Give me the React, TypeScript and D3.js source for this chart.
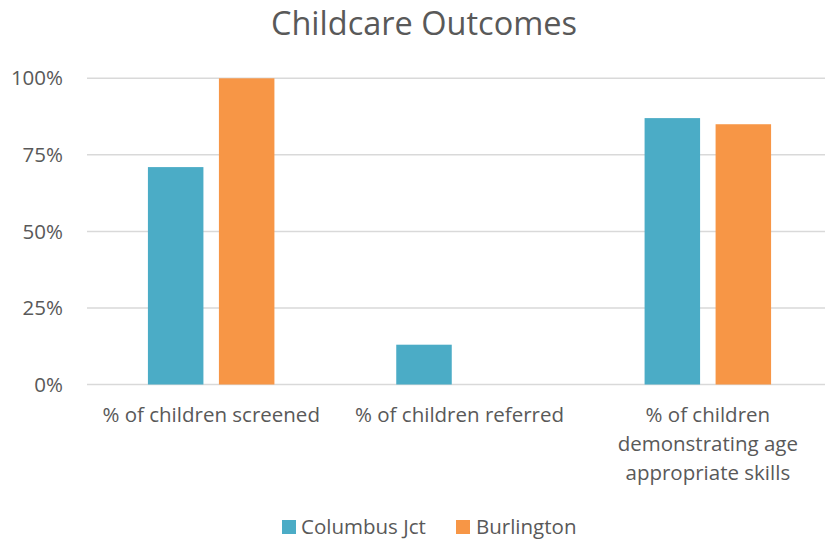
import React from "react";
import * as d3 from "d3";

const categories: string[][] = [
  ["% of children screened"],
  ["% of children referred"],
  ["% of children", "demonstrating age", "appropriate skills"],
];
const seriesNames = ["Columbus Jct", "Burlington"];
const columbusJct = [71, 13, 87];
const burlington = [100, 0, 85];
const yTicks = [0, 25, 50, 75, 100];

const W = 825;
const H = 540;
const colors = ["#4BACC6", "#F79646"];
const FONT = "'Open Sans', sans-serif";
const TEXT = "#595959";

export default function App() {
  const left = 87;
  const right = 832;
  const top = 78.3;
  const bottom = 384.5;
  const series = [columbusJct, burlington];

  const x = d3
    .scaleBand<number>()
    .domain(categories.map((_, i) => i))
    .range([left, right])
    .paddingInner(0)
    .paddingOuter(0);
  const groupW = 126.5;
  const x1 = d3
    .scaleBand<number>()
    .domain([0, 1])
    .range([0, groupW])
    .paddingInner(15.5 / 71);
  const y = d3.scaleLinear().domain([0, 100]).range([bottom, top]);

  return (
    <svg
      width={W}
      height={H}
      style={{ position: "absolute", left: 0, top: 0, background: "#fff" }}
      fontFamily={FONT}
    >
      <rect x={0} y={0} width={W} height={H} fill="#fff" />
      <text x={424} y={35} textAnchor="middle" fontSize={32.5} fill={TEXT}>
        Childcare Outcomes
      </text>
      {yTicks.map((t) => (
        <g key={t}>
          <line x1={left} x2={W} y1={y(t)} y2={y(t)} stroke="#D9D9D9" strokeWidth={1.5} />
          <text x={63} y={y(t)} dy="0.35em" textAnchor="end" fontSize={20.5} fill={TEXT}>
            {t}%
          </text>
        </g>
      ))}
      {categories.map((_, ci) => {
        const gx = x(ci)! + x.bandwidth() / 2 - groupW / 2;
        return series.map((s, si) => (
          <rect
            key={`${ci}-${si}`}
            x={gx + x1(si)!}
            y={y(s[ci])}
            width={x1.bandwidth()}
            height={bottom - y(s[ci])}
            fill={colors[si]}
          />
        ));
      })}
      {categories.map((lines, ci) => (
        <text
          key={ci}
          x={x(ci)! + x.bandwidth() / 2}
          y={422}
          textAnchor="middle"
          fontSize={20.5}
          fill={TEXT}
        >
          {lines.map((l, li) => (
            <tspan key={li} x={x(ci)! + x.bandwidth() / 2} dy={li === 0 ? 0 : 29}>
              {l}
            </tspan>
          ))}
        </text>
      ))}
      <g>
        <rect x={282} y={520} width={14} height={14} fill={colors[0]} />
        <text x={301} y={534} fontSize={20.5} fill={TEXT}>
          {seriesNames[0]}
        </text>
        <rect x={456} y={520} width={14} height={14} fill={colors[1]} />
        <text x={476} y={534} fontSize={20.5} fill={TEXT}>
          {seriesNames[1]}
        </text>
      </g>
    </svg>
  );
}
